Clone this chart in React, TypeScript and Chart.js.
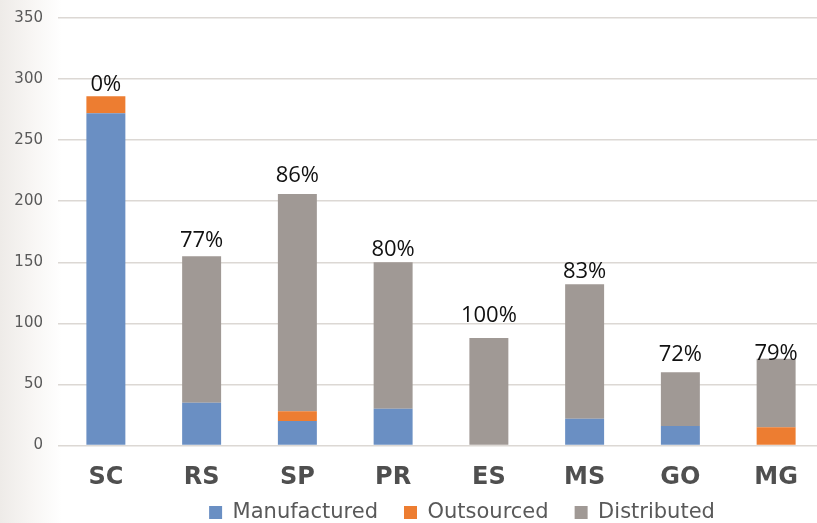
import React, { useEffect, useRef } from "react";
import { Chart, registerables } from "chart.js";

Chart.register(...registerables);

const categories = ["SC", "RS", "SP", "PR", "ES", "MS", "GO", "MG"];
const manufactured = [272, 35, 20, 30, 0, 22, 16, 0];
const outsourced = [14, 0, 8, 0, 0, 0, 0, 15];
const distributed = [0, 120, 178, 120, 88, 110, 44, 56];
const shareLabels = ["0%", "77%", "86%", "80%", "100%", "83%", "72%", "79%"];
const labelAt = [297, 169, 222, 161.5, 107.5, 143.5, 75.6, 76.5];
const yTicks = [0, 50, 100, 150, 200, 250, 300, 350];

const W = 924;
const H = 523;

const shareLabelPlugin = {
  id: "shareLabels",
  afterLayout(chart: any) {
    // let the legend row sit slightly into the area under the category labels
    const lg = chart.legend;
    if (lg) {
      lg.top = H - 47;
      lg.bottom = H;
      lg.height = 47;
    }
  },
  afterDatasetsDraw(chart: any) {
    const { ctx, scales } = chart;
    const meta = chart.getDatasetMeta(0);
    ctx.save();
    ctx.font = "22px 'Open Sans'";
    ctx.fillStyle = "#111111";
    ctx.textAlign = "center";
    ctx.textBaseline = "alphabetic";
    shareLabels.forEach((t, i) => {
      const x = meta.data[i].x;
      const y = scales.y.getPixelForValue(labelAt[i]) + 8;
      ctx.fillText(t, x, y);
    });
    ctx.restore();
  },
};

export default function App() {
  const ref = useRef<HTMLCanvasElement | null>(null);
  useEffect(() => {
    if (!ref.current) return;
    const chart = new Chart(ref.current, {
      type: "bar",
      data: {
        labels: categories,
        datasets: [
          { label: "Manufactured", data: manufactured, backgroundColor: "#6a8fc3" },
          { label: "Outsourced", data: outsourced, backgroundColor: "#ed7d31" },
          { label: "Distributed", data: distributed, backgroundColor: "#a09995" },
        ],
      },
      options: {
        responsive: false,
        animation: false,
        layout: { padding: { top: 18, left: 0, right: 0, bottom: 0 } },
        datasets: {
          bar: { categoryPercentage: 1, barPercentage: 0.407, borderWidth: 0 },
        },
        scales: {
          x: {
            stacked: true,
            grid: { display: false },
            border: { display: false },
            ticks: {
              padding: 10,
              color: "#4f4f4f",
              font: { family: "'DejaVu Sans'", size: 24, weight: "bold" },
            },
            afterFit: (s: any) => {
              s.height = 53;
            },
          },
          y: {
            stacked: true,
            min: 0,
            max: 350,
            afterBuildTicks: (s: any) => {
              s.ticks = yTicks.map((v) => ({ value: v }));
            },
            grid: { color: "#dcd8d4", lineWidth: 1.5, drawTicks: false },
            border: { display: false },
            ticks: {
              padding: 15,
              color: "#595959",
              font: { family: "'DejaVu Sans'", size: 15 },
            },
            afterFit: (s: any) => {
              s.width = 58;
              s.paddingTop = 0;
              s.paddingBottom = 0;
            },
          },
          y2: {
            position: "right",
            display: true,
            grid: { display: false },
            border: { display: false },
            ticks: { display: false },
            afterFit: (s: any) => {
              s.width = 100;
              s.paddingTop = 0;
              s.paddingBottom = 0;
            },
          },
        },
        plugins: {
          tooltip: { enabled: false },
          legend: {
            position: "bottom",
            maxHeight: 24.5,
            labels: {
              boxWidth: 13,
              boxHeight: 13,
              padding: 26,
              color: "#595959",
              font: { family: "'DejaVu Sans'", size: 21 },
            },
          },
        },
      },
      plugins: [shareLabelPlugin],
    } as any);
    return () => chart.destroy();
  }, []);
  return (
    <div
      style={{
        position: "fixed",
        left: 0,
        top: 0,
        width: 817,
        height: H,
        overflow: "hidden",
        background: "linear-gradient(to right, #eeebe8 0px, #f7f5f3 30px, #ffffff 62px)",
      }}
    >
      <canvas ref={ref} width={W} height={H} style={{ width: W, height: H, display: "block" }} />
    </div>
  );
}
